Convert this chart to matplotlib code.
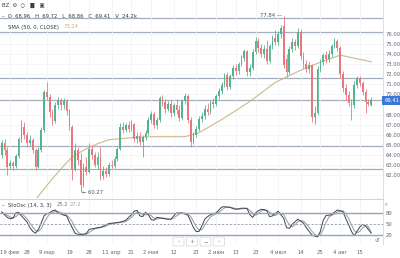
import numpy as np
import matplotlib.pyplot as plt
from matplotlib.patches import FancyBboxPatch

# ---- data ----
opens = [64.0, 65.2, 64.5, 62.9, 63.2, 62.9, 63.9, 65.6, 66.8, 66.0, 65.2, 65.5, 64.5, 62.8, 64.5, 66.5,
         70.2, 69.7, 68.3, 67.4, 68.9, 69.4, 68.9, 69.3, 68.4, 66.8, 62.6, 64.5, 63.5, 61.0, 62.8, 62.3,
         64.6, 64.0, 63.0, 63.8, 61.9, 62.4, 62.1, 63.0, 62.9, 63.6, 64.6, 66.8, 66.5, 67.0, 66.6, 67.1,
         65.6, 65.9, 65.3, 65.8, 66.2, 67.5, 68.1, 67.0, 67.5, 69.6, 69.2, 68.6, 69.0, 68.2, 68.9, 68.5,
         67.7, 69.3, 69.8, 67.5, 65.3, 66.0, 66.6, 67.6, 67.9, 68.6, 68.3, 69.2, 69.0, 69.8, 70.3, 70.9,
         71.9, 70.7, 71.8, 72.6, 72.3, 73.0, 73.6, 74.3, 72.2, 72.6, 74.2, 75.3, 74.6, 74.0, 74.5, 73.3,
         74.8, 75.6, 75.2, 76.0, 76.8, 73.5, 72.2, 74.5, 75.2, 74.8, 76.2, 73.8, 73.0, 72.5, 72.9, 67.8,
         68.2, 72.5, 73.2, 73.9, 73.5, 74.0, 74.8, 75.3, 74.6, 72.0, 70.6, 69.9, 69.1, 68.9, 70.9, 71.6,
         71.1, 70.2, 69.2, 68.96]
highs = [65.5, 65.6, 64.8, 63.5, 63.4, 64.1, 65.8, 67.5, 67.3, 66.3, 66.0, 65.7, 64.7, 64.8, 66.8, 70.4,
         71.2, 70.0, 68.6, 69.2, 69.7, 69.6, 69.6, 69.5, 68.6, 67.0, 65.2, 64.8, 64.2, 63.2, 63.8, 65.2,
         65.0, 64.3, 64.3, 64.8, 62.9, 62.8, 63.3, 63.5, 63.9, 64.8, 67.2, 67.3, 67.2, 67.4, 67.5, 67.2,
         66.3, 66.3, 66.0, 66.5, 67.8, 68.4, 68.3, 67.8, 69.8, 69.9, 69.5, 69.3, 69.4, 69.1, 69.5, 68.9,
         69.5, 70.1, 70.0, 67.8, 66.3, 66.9, 67.9, 68.3, 68.9, 69.1, 69.4, 69.6, 70.0, 70.6, 71.2, 72.1,
         72.2, 72.0, 72.9, 73.0, 73.2, 73.9, 74.5, 74.4, 73.0, 74.5, 75.7, 75.6, 75.0, 74.9, 75.4, 75.0,
         75.9, 76.4, 76.3, 76.9, 77.84, 74.0, 74.8, 75.6, 75.5, 76.6, 76.5, 74.2, 73.4, 73.2, 73.0, 68.8,
         72.8, 73.5, 74.1, 74.3, 74.4, 75.0, 75.6, 75.5, 74.8, 72.3, 71.0, 70.3, 69.5, 71.3, 71.8, 71.8,
         71.3, 70.5, 69.5, 69.72]
lows = [63.7, 64.0, 62.0, 62.6, 62.5, 62.7, 63.7, 65.3, 65.6, 64.8, 64.9, 64.2, 62.5, 62.7, 64.3, 66.3,
        69.4, 67.8, 67.0, 67.2, 68.6, 68.5, 68.6, 68.0, 66.5, 61.5, 62.4, 63.0, 60.27, 60.8, 62.0, 62.2,
        63.6, 62.8, 62.6, 61.5, 61.6, 61.8, 61.9, 62.6, 62.7, 63.4, 64.5, 66.2, 66.3, 66.3, 66.4, 65.3,
        65.2, 65.0, 63.8, 65.5, 66.0, 67.2, 66.7, 66.6, 67.3, 68.8, 68.2, 68.4, 67.8, 67.9, 68.1, 67.4,
        67.5, 69.0, 67.2, 64.8, 65.1, 65.8, 66.4, 67.3, 67.6, 68.0, 68.1, 68.7, 68.8, 69.5, 70.0, 70.7,
        70.4, 70.5, 71.5, 71.9, 72.0, 72.8, 73.3, 71.8, 71.8, 72.4, 74.0, 74.2, 73.7, 73.6, 73.0, 73.1,
        74.5, 74.9, 74.9, 75.6, 72.6, 71.7, 72.0, 74.2, 74.4, 74.6, 73.5, 72.6, 72.2, 72.1, 67.3, 67.1,
        68.0, 72.2, 72.9, 73.1, 73.2, 73.7, 74.6, 74.3, 71.6, 70.2, 69.4, 68.8, 67.5, 68.7, 70.6, 70.8,
        69.9, 68.2, 68.8, 68.86]
closes = [65.2, 64.5, 62.8, 63.2, 62.9, 63.9, 65.6, 66.8, 66.0, 65.2, 65.5, 64.5, 62.8, 64.5, 66.5, 70.2,
          69.7, 68.3, 67.4, 68.9, 69.4, 68.9, 69.3, 68.4, 66.8, 62.6, 64.5, 63.5, 61.0, 62.8, 62.3, 64.6,
          64.0, 63.0, 63.8, 61.9, 62.4, 62.1, 63.0, 62.9, 63.6, 64.6, 66.8, 66.5, 67.0, 66.6, 67.1, 65.6,
          65.9, 65.3, 65.8, 66.2, 67.5, 68.1, 67.0, 67.5, 69.6, 69.2, 68.6, 69.0, 68.2, 68.9, 68.5, 67.7,
          69.3, 69.8, 67.5, 65.3, 66.0, 66.6, 67.6, 67.9, 68.6, 68.3, 69.2, 69.0, 69.8, 70.3, 70.9, 71.9,
          70.7, 71.8, 72.6, 72.3, 73.0, 73.6, 74.3, 72.2, 72.6, 74.2, 75.3, 74.6, 74.0, 74.5, 73.3, 74.8,
          75.6, 75.2, 76.0, 76.6, 72.9, 72.2, 74.5, 75.2, 74.8, 76.2, 73.8, 73.0, 72.5, 72.9, 67.8, 68.2,
          72.5, 73.2, 73.9, 73.5, 74.0, 74.8, 75.3, 74.6, 72.0, 70.6, 69.9, 69.1, 68.9, 70.9, 71.6, 71.1,
          70.2, 69.2, 69.0, 69.41]

# SMA(50) read at a few candles
sma_idx = [0, 10, 13, 17, 21, 25, 30, 34, 38, 46, 53, 60, 65, 70, 78, 88, 97, 106, 113, 120, 125, 131]
sma_val = [56.0, 58.9, 59.9, 61.3, 62.6, 63.8, 64.6, 65.1, 65.5, 65.7, 65.8, 65.8, 65.8, 66.2, 67.5,
           69.3, 71.2, 72.4, 73.2, 73.9, 73.6, 73.24]

# horizontal levels drawn on the chart
levels = [77.6, 76.2, 71.6, 69.4, 64.9, 62.6]

# stochastic %K and %D
stoch_k = [83, 75, 68, 64, 66, 80, 82, 72, 64, 55, 40, 30, 25, 35, 52, 72, 78, 80, 86, 88, 80, 77, 74, 72,
           55, 40, 25, 22, 21, 22, 24, 35, 37, 38, 40, 41, 44, 48, 51, 52, 53, 54, 55, 57, 60, 68, 75, 85,
           87, 72, 70, 82, 75, 62, 60, 68, 67, 65, 64, 63, 63, 72, 80, 80, 80, 77, 74, 58, 40, 29, 30, 45,
           63, 70, 75, 78, 80, 88, 96, 97, 96, 95, 92, 90, 91, 93, 93, 92, 75, 68, 80, 86, 90, 89, 86, 70,
           72, 78, 85, 75, 65, 40, 38, 49, 56, 63, 58, 52, 40, 30, 20, 17, 15, 30, 60, 73, 74, 75, 82, 88,
           86, 83, 65, 48, 30, 18, 30, 42, 49, 45, 35, 25.2]
stoch_d = [80, 78, 74, 69, 66, 70, 76, 78, 72, 64, 53, 42, 32, 30, 37, 53, 67, 77, 81, 84, 84, 81, 77, 74,
           67, 56, 40, 29, 23, 22, 22, 27, 32, 37, 38, 40, 42, 44, 48, 50, 52, 53, 54, 55, 57, 62, 68, 76,
           82, 81, 76, 75, 76, 73, 66, 63, 65, 67, 65, 64, 63, 66, 72, 77, 80, 79, 77, 70, 57, 42, 33, 35,
           46, 59, 69, 74, 78, 82, 88, 94, 96, 96, 94, 92, 91, 91, 92, 93, 87, 78, 74, 78, 85, 88, 88, 82,
           76, 73, 78, 79, 75, 60, 48, 42, 48, 56, 59, 58, 50, 41, 30, 22, 17, 21, 35, 54, 69, 74, 77, 82,
           85, 86, 78, 65, 48, 32, 26, 30, 40, 45, 43, 27.2]

tick_idx = [2.8, 9, 16, 24, 31, 39, 46, 53, 61, 69, 76, 83, 90, 98, 106, 113, 120, 127]
tick_labels = ["19 фев", "28", "9 мар", "19", "28", "11 апр", "21", "2 мая", "12", "23",
               "2 июн", "13", "23", "4 июл", "14", "25", "4 авг", "15"]

price_ticks = [76, 75, 74, 73, 72, 71, 70, 68, 67, 66, 65, 64, 63, 62]

UP = '#53b58f'
DOWN = '#e8787e'
GRID = '#eef1f5'
W, H = 400, 258

fig = plt.figure(figsize=(4, 2.58), dpi=100)
fig.patch.set_facecolor('white')

def px_rect(x0, y0, x1, y1):
    return [x0 / W, 1 - y1 / H, (x1 - x0) / W, (y1 - y0) / H]

ax = fig.add_axes(px_rect(0, 0, 383, 198))
ax2 = fig.add_axes(px_rect(0, 199, 383, 244), sharex=ax)

n = len(closes)
idx = np.arange(n)
o = np.array(opens)
c = np.array(closes)
up = c >= o
colors = np.where(up, UP, DOWN)

ax.vlines(idx, lows, highs, colors=colors, lw=0.6, zorder=3)
ax.bar(idx, np.maximum(np.abs(c - o), 0.04), bottom=np.minimum(o, c), width=0.62,
       color=colors, lw=0, zorder=4)
ax.plot(sma_idx, sma_val, color='#cdb98a', lw=0.8, zorder=2)
for lv in levels:
    ax.axhline(lv, color='#a5aebb', lw=0.9, zorder=1)

ax.set_xlim(-0.6, n + 3.2)
ax.set_ylim(59.71, 79.38)
ax.yaxis.tick_right()
ax.set_yticks(price_ticks)
ax.set_yticklabels([f"{v:.2f}" for v in price_ticks], fontsize=3.8, color='#5d6673')
ax.tick_params(axis='y', length=0, pad=2)
ax.tick_params(axis='x', length=0, labelbottom=False)
ax.set_xticks(tick_idx)
ax.grid(True, color=GRID, lw=0.5, zorder=0)
for s in ['top', 'left', 'bottom']:
    ax.spines[s].set_visible(False)
ax.spines['right'].set_color('#d4d9e0')
ax.spines['right'].set_linewidth(0.6)

# last price tag
ax.text(n + 3.6, 69.41, "69.41", transform=ax.transData, fontsize=3.8, color='white',
        va='center', ha='left', clip_on=False,
        bbox=dict(boxstyle='square,pad=0.35', fc='#3b78d8', ec='none'))

# high / low marks
ax.text(99.4, 77.84, "77.84 \u2014", fontsize=3.8, color='#4a5260', ha='right', va='center')
ax.text(28.6, 60.27, "\u2190 60.27", fontsize=3.8, color='#4a5260', ha='left', va='center')

# stochastic pane
ax2.plot(idx, stoch_d, color='#9ea4ad', lw=0.8)
ax2.plot(idx, stoch_k, color='#3d4450', lw=0.7)
ax2.axhline(80, color='#9aa3ae', lw=1.0)
ax2.axhline(20, color='#9aa3ae', lw=1.0)
ax2.axhline(50, color='#9aa3ae', lw=0.7, ls=(0, (2, 2)))
ax2.set_ylim(-4.5, 118)
ax2.yaxis.tick_right()
ax2.set_yticks([80, 50, 20])
ax2.set_yticklabels(["80", "50", "20"], fontsize=3.8, color='#5d6673')
ax2.tick_params(axis='y', length=0, pad=2)
ax2.set_xticks(tick_idx)
ax2.set_xticklabels(tick_labels, fontsize=3.8, color='#5d6673')
ax2.tick_params(axis='x', length=0, pad=4)
ax2.grid(True, color=GRID, lw=0.5, zorder=0)
for s in ['top', 'left', 'bottom']:
    ax2.spines[s].set_visible(False)
ax2.spines['right'].set_color('#d4d9e0')
ax2.spines['right'].set_linewidth(0.6)

# pane separator
fig.add_artist(plt.Line2D([0, 383 / W], [1 - 198.5 / H] * 2, color='#cfd5dd', lw=0.8))

# header texts
def ftext(x, y, s, size=3.8, **kw):
    fig.text(x / W, 1 - y / H, s, va='center', ha='left', fontsize=size, **kw)

ftext(2, 5, "BZ  \u2699  \u25cb  \u2590\u258c  \u25a3", color='#333a45')
ftext(2, 16, "\u2013  O  68.96   H  69.72   L  68.86   C  69.41   V  24.2k", color='#333a45')
ftext(8, 27, "SMA (50, 0, CLOSE)", color='#333a45')
ftext(64, 27, "73.24", color='#c9b27a')
ftext(2, 205, "\u2013  StoOsc (14, 3, 3)", color='#333a45')
ftext(57, 205, "25.2", color='#6f7a8a')
ftext(70, 205, "27.2", color='#9ea4ad')

# scroll buttons
for k, sym in enumerate(["\u2039", "+", "\u2212", "\u203a"]):
    x0 = 173 + k * 13.5
    fig.add_artist(FancyBboxPatch((x0 / W, 1 - 246 / H), 11 / W, 9 / H,
                                  boxstyle='round,pad=0,rounding_size=0.004',
                                  fc='white', ec='#d0d5dc', lw=0.5, transform=fig.transFigure))
    fig.text((x0 + 5.5) / W, 1 - 241.5 / H, sym, fontsize=4, color='#7b8594', ha='center', va='center')
ftext(374, 240, "\u21ba", size=4, color='#5d6673')
ftext(383, 205, "\u00d7", size=4, color='#9aa3ae')

fig.savefig('out.png', dpi=100)
